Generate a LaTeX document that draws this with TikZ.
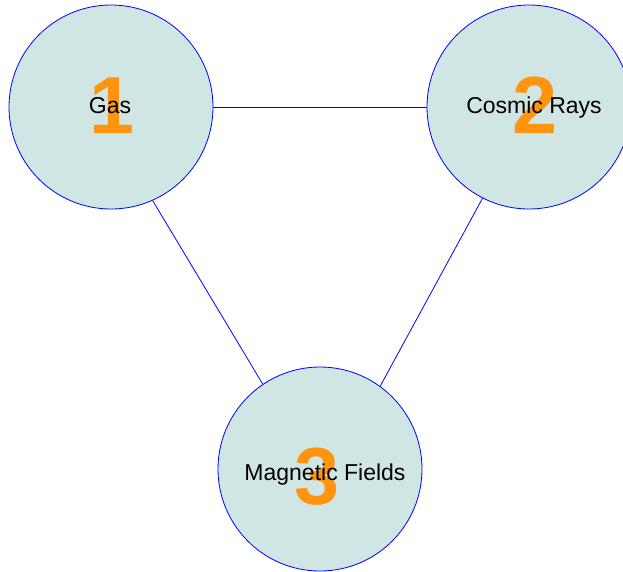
\documentclass[tikz,border=0pt]{standalone}
\usepackage{fontspec}
\setmainfont{Liberation Sans}
\usepackage{xcolor}
\usepackage{tikz}
\definecolor{bubblefill}{HTML}{D0E6E4}
\definecolor{numorange}{HTML}{FF950E}
\tikzset{
  topic/.style={circle, draw=blue, fill=bubblefill, line width=0.8pt, minimum size=204pt, inner sep=0pt},
  bignum/.style={anchor=base, inner sep=0pt, text=numorange, font=\fontsize{81}{81}\selectfont\bfseries},
  topiclabel/.style={anchor=base, inner sep=0pt, font=\fontsize{23}{23}\selectfont},
  link/.style={draw=blue, line width=0.8pt}
}

\begin{document}
\begin{tikzpicture}[x=1pt,y=-1pt]
                        \useasboundingbox (0,0) rectangle (623,571);
                        \node[topic] (gas) at (111,107) {};
                        \node[topic] (rays) at (529,107) {};
                        \node[topic] (fields) at (320,469) {};
                        % numbers sit behind the labels
                        \node[bignum] (n1) at (112,133) {1};
                        \node[bignum] (n2) at (535,133) {2};
                        \node[bignum] (n3) at (317,504) {3};
                        \node[topiclabel] (l1) at (110,113) {Gas};
                        \node[topiclabel] (l2) at (534,113) {Cosmic Rays};
                        \node[topiclabel] (l3) at (325,480) {Magnetic Fields};
                        \draw[link] (gas.east) -- (rays.west);
                        \draw[link] (gas.-66) -- (fields.124);
                        \draw[link] (rays.-117) -- (fields.54);
                \end{tikzpicture}
\end{document}
